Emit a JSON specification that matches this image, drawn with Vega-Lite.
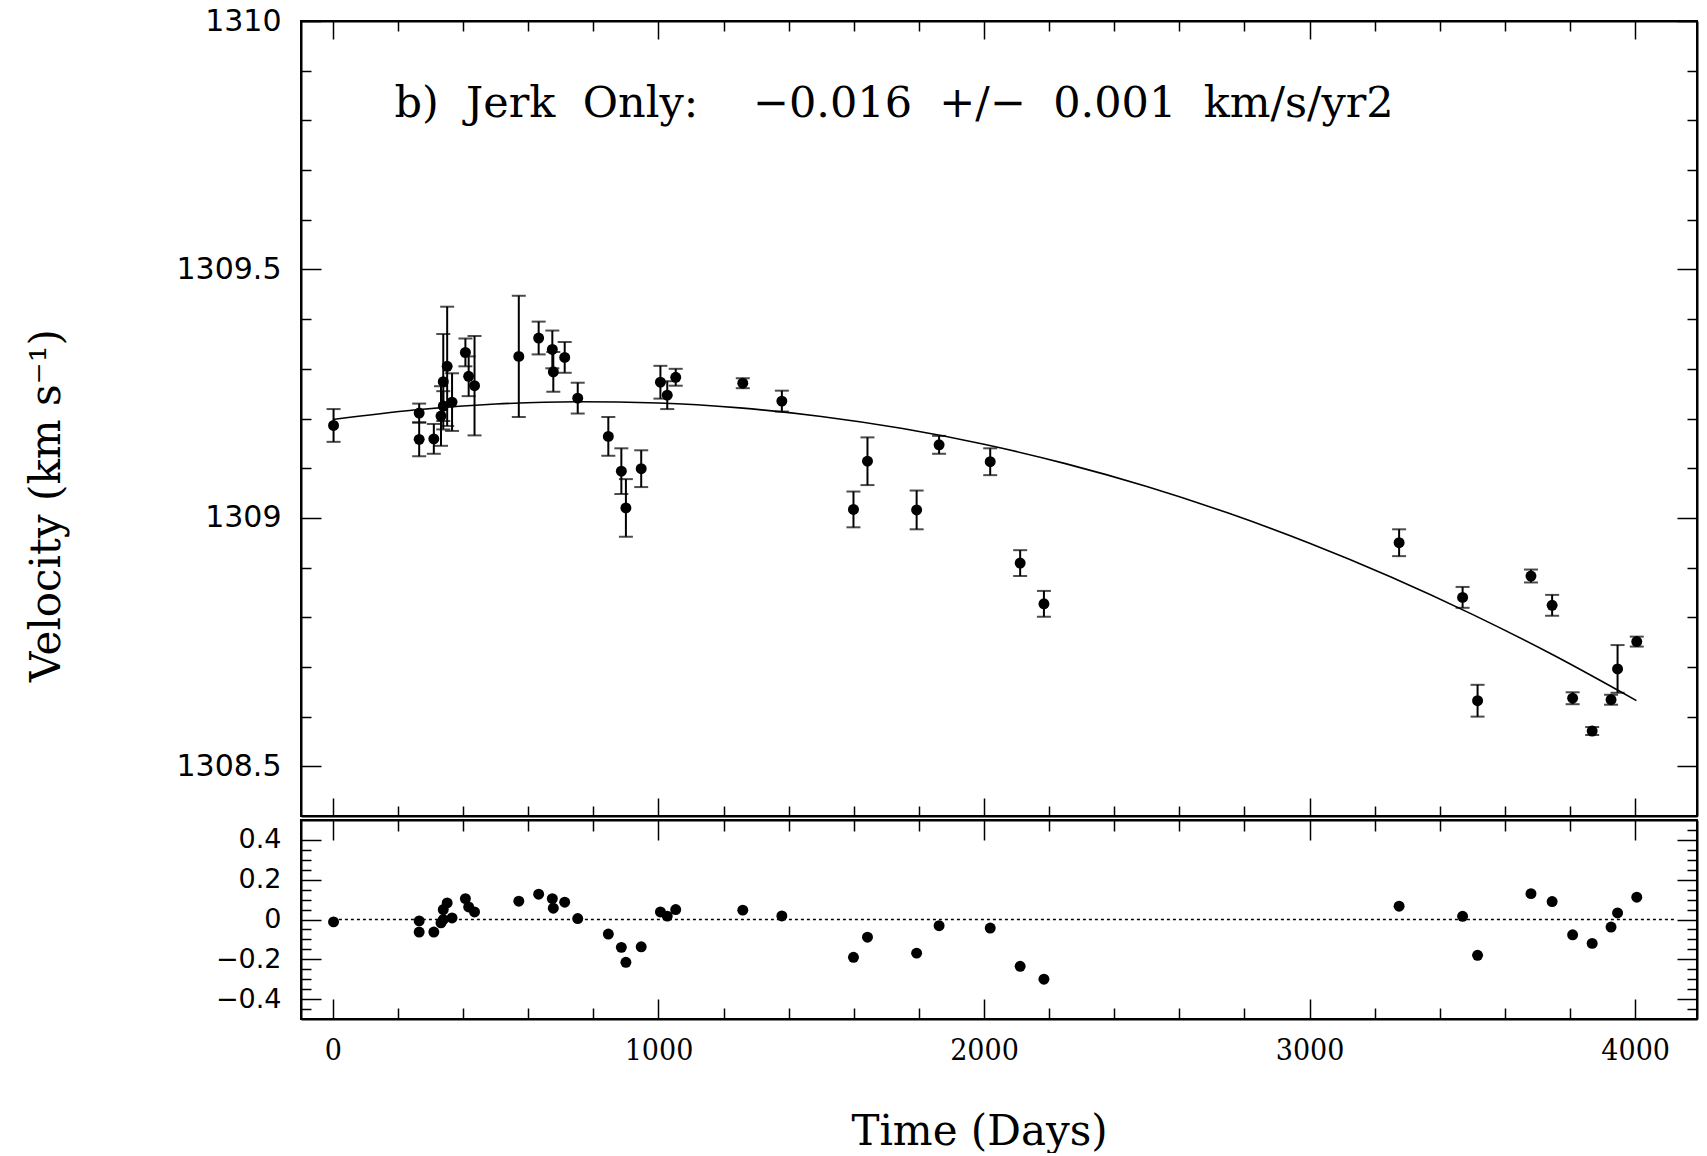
{
  "$schema": "https://vega.github.io/schema/vega-lite/v6.json",
  "padding": {"left": 24, "top": 5, "right": 5, "bottom": 0},
  "background": "white",
  "spacing": 0,
  "datasets": {
    "obs": [
      {"t":2,"v":1309.186,"err":0.033,"r":-0.012},
      {"t":265,"v":1309.211,"err":0.019,"r":-0.007},
      {"t":265,"v":1309.158,"err":0.034,"r":-0.063},
      {"t":310,"v":1309.159,"err":0.030,"r":-0.063},
      {"t":332,"v":1309.205,"err":0.060,"r":-0.017},
      {"t":339,"v":1309.225,"err":0.030,"r":0.0},
      {"t":339,"v":1309.274,"err":0.096,"r":0.05},
      {"t":351,"v":1309.305,"err":0.120,"r":0.083},
      {"t":366,"v":1309.233,"err":0.058,"r":0.008},
      {"t":407,"v":1309.333,"err":0.028,"r":0.105},
      {"t":417,"v":1309.285,"err":0.040,"r":0.063},
      {"t":435,"v":1309.266,"err":0.100,"r":0.038},
      {"t":571,"v":1309.325,"err":0.122,"r":0.092},
      {"t":632,"v":1309.362,"err":0.033,"r":0.127},
      {"t":674,"v":1309.339,"err":0.038,"r":0.105},
      {"t":677,"v":1309.294,"err":0.040,"r":0.057},
      {"t":712,"v":1309.323,"err":0.031,"r":0.087},
      {"t":752,"v":1309.241,"err":0.031,"r":0.005},
      {"t":846,"v":1309.164,"err":0.039,"r":-0.073},
      {"t":886,"v":1309.094,"err":0.046,"r":-0.14},
      {"t":900,"v":1309.020,"err":0.058,"r":-0.215},
      {"t":947,"v":1309.099,"err":0.037,"r":-0.137},
      {"t":1006,"v":1309.273,"err":0.033,"r":0.038},
      {"t":1027,"v":1309.247,"err":0.028,"r":0.017},
      {"t":1053,"v":1309.283,"err":0.017,"r":0.05},
      {"t":1259,"v":1309.271,"err":0.010,"r":0.047},
      {"t":1379,"v":1309.235,"err":0.021,"r":0.018},
      {"t":1599,"v":1309.017,"err":0.036,"r":-0.19},
      {"t":1642,"v":1309.114,"err":0.048,"r":-0.089},
      {"t":1793,"v":1309.016,"err":0.039,"r":-0.169},
      {"t":1862,"v":1309.147,"err":0.018,"r":-0.031},
      {"t":2019,"v":1309.113,"err":0.027,"r":-0.043},
      {"t":2111,"v":1308.909,"err":0.026,"r":-0.235},
      {"t":2184,"v":1308.827,"err":0.026,"r":-0.30},
      {"t":3275,"v":1308.950,"err":0.027,"r":0.067},
      {"t":3470,"v":1308.840,"err":0.021,"r":0.016},
      {"t":3516,"v":1308.632,"err":0.032,"r":-0.18},
      {"t":3680,"v":1308.883,"err":0.013,"r":0.13},
      {"t":3745,"v":1308.824,"err":0.021,"r":0.09},
      {"t":3808,"v":1308.637,"err":0.012,"r":-0.077},
      {"t":3868,"v":1308.571,"err":0.008,"r":-0.12},
      {"t":3926,"v":1308.634,"err":0.010,"r":-0.038},
      {"t":3946,"v":1308.696,"err":0.048,"r":0.033},
      {"t":4005,"v":1308.751,"err":0.010,"r":0.112}
    ],
    "curve": [
      {"t":0,"v":1309.198},
      {"t":250,"v":1309.2172},
      {"t":500,"v":1309.2291},
      {"t":750,"v":1309.2337},
      {"t":1000,"v":1309.2311},
      {"t":1250,"v":1309.2213},
      {"t":1500,"v":1309.2041},
      {"t":1750,"v":1309.1798},
      {"t":2000,"v":1309.1481},
      {"t":2250,"v":1309.1092},
      {"t":2500,"v":1309.0631},
      {"t":2750,"v":1309.0096},
      {"t":3000,"v":1308.9490},
      {"t":3250,"v":1308.8811},
      {"t":3500,"v":1308.8058},
      {"t":3750,"v":1308.7234},
      {"t":4004,"v":1308.6322}
    ]
  },
  "config": {
    "view": {"stroke": "black", "strokeWidth": 2},
    "axis": {
      "grid": false,
      "domainColor": "black",
      "domainWidth": 2,
      "tickColor": "black",
      "tickWidth": 1.5,
      "labelColor": "black",
      "titleColor": "black",
      "titleFontWeight": "normal",
      "labelOverlap": false,
      "labelBound": false,
      "labelFlush": false,
      "minExtent": 0
    }
  },
  "vconcat": [
    {
      "width": 1396,
      "height": 795,
      "resolve": {"axis": {"x": "independent", "y": "independent"}},
      "layer": [
        {
          "data": {"name": "curve"},
          "mark": {"type": "line", "color": "black", "strokeWidth": 1.6, "interpolate": "monotone"},
          "encoding": {
            "x": {"field": "t", "type": "quantitative",
              "scale": {"domain": [-98, 4190], "nice": false, "zero": false},
              "axis": {"orient": "bottom", "values": [0,200,400,600,800,1000,1200,1400,1600,1800,2000,2200,2400,2600,2800,3000,3200,3400,3600,3800,4000],
                "labels": false, "title": null,
                "tickSize": {"condition": {"test": "datum.value % 1000 === 0", "value": -18}, "value": -10}}},
            "y": {"field": "v", "type": "quantitative",
              "scale": {"domain": [1308.4, 1310], "nice": false, "zero": false},
              "axis": {"orient": "left",
                "values": [1308.5,1308.6,1308.7,1308.8,1308.9,1309.0,1309.1,1309.2,1309.3,1309.4,1309.5,1309.6,1309.7,1309.8,1309.9,1310.0],
                "labelExpr": "abs(datum.value*2 - round(datum.value*2)) < 0.001 ? format(datum.value, '.1~f') : ''",
                "tickSize": {"condition": {"test": "abs(datum.value*2 - round(datum.value*2)) < 0.001", "value": -20}, "value": -10},
                "labelPadding": 40,
                "labelFont": "DejaVu Sans", "labelFontSize": 30,
                "title": "Velocity (km s⁻¹)",
                "titleFont": "DejaVu Serif", "titleFontSize": 42,
                "titleX": -233, "titleY": 484, "titleBaseline": "bottom", "titleAngle": 270}}
          }
        },
        {
          "data": {"name": "obs"},
          "mark": {"type": "errorbar", "color": "black", "thickness": 2, "ticks": {"size": 14, "thickness": 2, "color": "black"}},
          "encoding": {
            "x": {"field": "t", "type": "quantitative", "axis": null},
            "y": {"field": "v", "type": "quantitative", "axis": null},
            "yError": {"field": "err"}
          }
        },
        {
          "data": {"name": "obs"},
          "mark": {"type": "point", "filled": true, "shape": "circle", "size": 120, "color": "black", "opacity": 1},
          "encoding": {
            "x": {"field": "t", "type": "quantitative",
              "axis": {"orient": "top", "values": [0,200,400,600,800,1000,1200,1400,1600,1800,2000,2200,2400,2600,2800,3000,3200,3400,3600,3800,4000],
                "labels": false, "title": null,
                "tickSize": {"condition": {"test": "datum.value % 1000 === 0", "value": -18}, "value": -10}}},
            "y": {"field": "v", "type": "quantitative",
              "axis": {"orient": "right",
                "values": [1308.5,1308.6,1308.7,1308.8,1308.9,1309.0,1309.1,1309.2,1309.3,1309.4,1309.5,1309.6,1309.7,1309.8,1309.9,1310.0],
                "labels": false, "title": null,
                "tickSize": {"condition": {"test": "abs(datum.value*2 - round(datum.value*2)) < 0.001", "value": -20}, "value": -10}}}
          }
        },
        {
          "data": {"values": [{}]},
          "mark": {"type": "text", "align": "left", "baseline": "alphabetic", "font": "DejaVu Serif", "fontSize": 43, "color": "black"},
          "encoding": {
            "x": {"datum": 189, "type": "quantitative", "axis": null},
            "y": {"datum": 1309.807, "type": "quantitative", "axis": null},
            "text": {"value": "b)\u00a0\u00a0Jerk\u00a0\u00a0Only:\u00a0\u00a0\u00a0\u00a0−0.016\u00a0\u00a0+/−\u00a0\u00a00.001\u00a0\u00a0km/s/yr2"}
          }
        }
      ]
    },
    {
      "width": 1396,
      "height": 199,
      "resolve": {"axis": {"x": "independent", "y": "independent"}},
      "layer": [
        {
          "data": {"values": [{}]},
          "mark": {"type": "rule", "color": "black", "strokeWidth": 1.6, "strokeDash": [3, 3]},
          "encoding": {
            "x": {"datum": 0, "type": "quantitative",
              "scale": {"domain": [-98, 4190], "nice": false, "zero": false},
              "axis": {"orient": "bottom", "values": [0,200,400,600,800,1000,1200,1400,1600,1800,2000,2200,2400,2600,2800,3000,3200,3400,3600,3800,4000],
                "labelExpr": "datum.value % 1000 === 0 ? format(datum.value, 'd') : ''",
                "tickSize": {"condition": {"test": "datum.value % 1000 === 0", "value": -20}, "value": -11},
                "labelPadding": 36,
                "labelFont": "DejaVu Serif Condensed, DejaVu Serif", "labelFontSize": 30,
                "title": "Time (Days)", "titleFont": "DejaVu Serif", "titleFontSize": 42,
                "titleX": 678, "titleY": 92, "titleBaseline": "top", "titleAlign": "center"}},
            "x2": {"datum": 4125},
            "y": {"datum": 0, "type": "quantitative",
              "scale": {"domain": [-0.5, 0.5], "nice": false, "zero": false},
              "axis": {"orient": "left",
                "values": [-0.45,-0.4,-0.35,-0.3,-0.25,-0.2,-0.15,-0.1,-0.05,0,0.05,0.1,0.15,0.2,0.25,0.3,0.35,0.4],
                "labelExpr": "abs(datum.value*5 - round(datum.value*5)) < 0.001 ? format(datum.value, '.1~f') : ''",
                "tickSize": {"condition": {"test": "abs(datum.value*5 - round(datum.value*5)) < 0.001", "value": -20}, "value": -10},
                "labelPadding": 40,
                "labelFont": "DejaVu Sans", "labelFontSize": 27,
                "title": null}}
          }
        },
        {
          "data": {"name": "obs"},
          "mark": {"type": "point", "filled": true, "shape": "circle", "size": 120, "color": "black", "opacity": 1},
          "encoding": {
            "x": {"field": "t", "type": "quantitative",
              "axis": {"orient": "top", "values": [0,200,400,600,800,1000,1200,1400,1600,1800,2000,2200,2400,2600,2800,3000,3200,3400,3600,3800,4000],
                "labels": false, "title": null,
                "tickSize": {"condition": {"test": "datum.value % 1000 === 0", "value": -20}, "value": -11}}},
            "y": {"field": "r", "type": "quantitative",
              "axis": {"orient": "right",
                "values": [-0.45,-0.4,-0.35,-0.3,-0.25,-0.2,-0.15,-0.1,-0.05,0,0.05,0.1,0.15,0.2,0.25,0.3,0.35,0.4,0.45],
                "labels": false, "title": null,
                "tickSize": {"condition": {"test": "abs(datum.value*5 - round(datum.value*5)) < 0.001", "value": -20}, "value": -10}}}
          }
        }
      ]
    }
  ]
}
